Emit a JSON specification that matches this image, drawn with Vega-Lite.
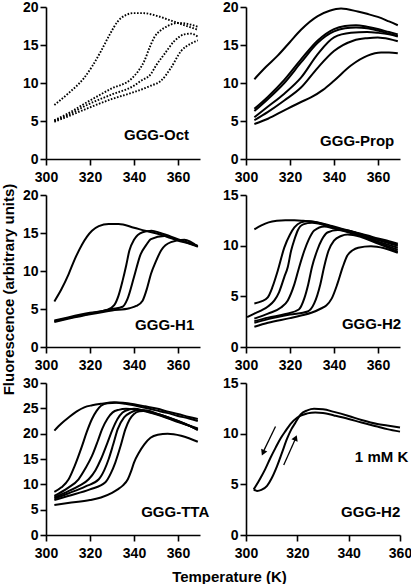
{
 "$schema": "https://vega.github.io/schema/vega-lite/v6.json",
 "background": "white",
 "padding": {"left": 0, "top": 0, "right": 0, "bottom": 0},
 "config": {
  "view": {"stroke": null},
  "font": "Liberation Sans",
  "axis": {"grid": false, "domainColor": "black", "domainWidth": 1.6, "tickColor": "black", "tickWidth": 1.6, "tickSize": 6,
   "labelFont": "Liberation Sans", "labelFontSize": 14, "labelFontWeight": "bold", "labelColor": "black", "labelFlush": false, "labelOverlap": false,
   "titleFont": "Liberation Sans", "titleFontSize": 15, "titleFontWeight": "bold", "titleColor": "black"},
  "axisX": {"labelPadding": 5},
  "axisY": {"labelPadding": 2, "labelOverlap": false, "labelBound": false},
  "line": {"color": "black", "strokeWidth": 2, "interpolate": "monotone"},
  "text": {"font": "Liberation Sans", "fontSize": 15, "fontWeight": "bold", "color": "black", "align": "right", "baseline": "alphabetic"}
 },
 "datasets": {
  "curves": [
   {"p":"Oct","s":1,"T":303.8,"F":7.1},{"p":"Oct","s":1,"T":310,"F":8.6},{"p":"Oct","s":1,"T":317.4,"F":10.7},{"p":"Oct","s":1,"T":321,"F":12.2},{"p":"Oct","s":1,"T":325,"F":14.2},{"p":"Oct","s":1,"T":329,"F":16.4},{"p":"Oct","s":1,"T":332.6,"F":18.1},{"p":"Oct","s":1,"T":336,"F":18.9},{"p":"Oct","s":1,"T":340,"F":19.2},{"p":"Oct","s":1,"T":344,"F":19.2},{"p":"Oct","s":1,"T":350.8,"F":18.8},{"p":"Oct","s":1,"T":355,"F":18.4},{"p":"Oct","s":1,"T":359.9,"F":17.9},{"p":"Oct","s":1,"T":365,"F":17.4},{"p":"Oct","s":1,"T":369,"F":17.0},
   {"p":"Oct","s":2,"T":303.8,"F":5.1},{"p":"Oct","s":2,"T":310,"F":6.0},{"p":"Oct","s":2,"T":320,"F":7.7},{"p":"Oct","s":2,"T":330,"F":9.3},{"p":"Oct","s":2,"T":338.6,"F":10.5},{"p":"Oct","s":2,"T":342,"F":11.6},{"p":"Oct","s":2,"T":344.7,"F":12.9},{"p":"Oct","s":2,"T":347,"F":14.6},{"p":"Oct","s":2,"T":349.2,"F":16.0},{"p":"Oct","s":2,"T":352,"F":16.9},{"p":"Oct","s":2,"T":355.3,"F":17.5},{"p":"Oct","s":2,"T":359.9,"F":17.9},{"p":"Oct","s":2,"T":364,"F":17.8},{"p":"Oct","s":2,"T":369,"F":17.4},
   {"p":"Oct","s":3,"T":303.8,"F":5.0},{"p":"Oct","s":3,"T":310,"F":5.8},{"p":"Oct","s":3,"T":320,"F":7.3},{"p":"Oct","s":3,"T":330,"F":8.5},{"p":"Oct","s":3,"T":340,"F":9.65},{"p":"Oct","s":3,"T":343.2,"F":10.3},{"p":"Oct","s":3,"T":347.7,"F":11.2},{"p":"Oct","s":3,"T":350,"F":12.3},{"p":"Oct","s":3,"T":353.8,"F":13.8},{"p":"Oct","s":3,"T":358.3,"F":15.5},{"p":"Oct","s":3,"T":362.9,"F":16.4},{"p":"Oct","s":3,"T":366,"F":16.5},{"p":"Oct","s":3,"T":369,"F":16.1},
   {"p":"Oct","s":4,"T":303.8,"F":4.9},{"p":"Oct","s":4,"T":310,"F":5.6},{"p":"Oct","s":4,"T":320,"F":6.8},{"p":"Oct","s":4,"T":330,"F":7.9},{"p":"Oct","s":4,"T":340,"F":8.8},{"p":"Oct","s":4,"T":347.7,"F":9.65},{"p":"Oct","s":4,"T":352.3,"F":10.3},{"p":"Oct","s":4,"T":356.8,"F":12.0},{"p":"Oct","s":4,"T":361.4,"F":14.2},{"p":"Oct","s":4,"T":365.9,"F":15.2},{"p":"Oct","s":4,"T":369,"F":15.6},

   {"p":"Prop","s":1,"T":303.8,"F":10.5},{"p":"Prop","s":1,"T":309,"F":12.1},{"p":"Prop","s":1,"T":314.4,"F":13.6},{"p":"Prop","s":1,"T":320,"F":15.4},{"p":"Prop","s":1,"T":325,"F":17.0},{"p":"Prop","s":1,"T":332.6,"F":18.8},{"p":"Prop","s":1,"T":338,"F":19.5},{"p":"Prop","s":1,"T":343.2,"F":19.8},{"p":"Prop","s":1,"T":350.8,"F":19.4},{"p":"Prop","s":1,"T":355,"F":19.1},{"p":"Prop","s":1,"T":359.9,"F":18.7},{"p":"Prop","s":1,"T":365,"F":18.1},{"p":"Prop","s":1,"T":369,"F":17.6},
   {"p":"Prop","s":2,"T":303.8,"F":6.6},{"p":"Prop","s":2,"T":310,"F":8.2},{"p":"Prop","s":2,"T":317.4,"F":10.4},{"p":"Prop","s":2,"T":325,"F":13.1},{"p":"Prop","s":2,"T":332.6,"F":15.6},{"p":"Prop","s":2,"T":340,"F":17.1},{"p":"Prop","s":2,"T":345,"F":17.5},{"p":"Prop","s":2,"T":350,"F":17.6},{"p":"Prop","s":2,"T":355,"F":17.4},{"p":"Prop","s":2,"T":359.9,"F":17.1},{"p":"Prop","s":2,"T":365,"F":16.7},{"p":"Prop","s":2,"T":369,"F":16.4},
   {"p":"Prop","s":3,"T":303.8,"F":6.3},{"p":"Prop","s":3,"T":310,"F":7.9},{"p":"Prop","s":3,"T":317.4,"F":10.0},{"p":"Prop","s":3,"T":325,"F":12.7},{"p":"Prop","s":3,"T":332.6,"F":15.3},{"p":"Prop","s":3,"T":340,"F":16.8},{"p":"Prop","s":3,"T":345,"F":17.2},{"p":"Prop","s":3,"T":350,"F":17.3},{"p":"Prop","s":3,"T":355,"F":17.2},{"p":"Prop","s":3,"T":359.9,"F":16.9},{"p":"Prop","s":3,"T":365,"F":16.5},{"p":"Prop","s":3,"T":369,"F":16.2},
   {"p":"Prop","s":4,"T":303.8,"F":5.5},{"p":"Prop","s":4,"T":310,"F":6.9},{"p":"Prop","s":4,"T":317.4,"F":8.6},{"p":"Prop","s":4,"T":325,"F":10.7},{"p":"Prop","s":4,"T":332.6,"F":13.8},{"p":"Prop","s":4,"T":340,"F":16.0},{"p":"Prop","s":4,"T":347.7,"F":16.6},{"p":"Prop","s":4,"T":355,"F":16.7},{"p":"Prop","s":4,"T":359.9,"F":16.6},{"p":"Prop","s":4,"T":365,"F":16.4},{"p":"Prop","s":4,"T":369,"F":16.1},
   {"p":"Prop","s":5,"T":303.8,"F":5.1},{"p":"Prop","s":5,"T":310,"F":6.2},{"p":"Prop","s":5,"T":317.4,"F":7.7},{"p":"Prop","s":5,"T":325,"F":9.4},{"p":"Prop","s":5,"T":332.6,"F":12.0},{"p":"Prop","s":5,"T":340,"F":14.2},{"p":"Prop","s":5,"T":349,"F":15.6},{"p":"Prop","s":5,"T":355,"F":15.9},{"p":"Prop","s":5,"T":359.9,"F":16.0},{"p":"Prop","s":5,"T":365,"F":15.8},{"p":"Prop","s":5,"T":369,"F":15.5},
   {"p":"Prop","s":6,"T":303.8,"F":4.6},{"p":"Prop","s":6,"T":310,"F":5.3},{"p":"Prop","s":6,"T":317.4,"F":6.4},{"p":"Prop","s":6,"T":325,"F":7.5},{"p":"Prop","s":6,"T":329.5,"F":8.1},{"p":"Prop","s":6,"T":335,"F":9.1},{"p":"Prop","s":6,"T":340,"F":10.3},{"p":"Prop","s":6,"T":347.7,"F":12.3},{"p":"Prop","s":6,"T":355.3,"F":13.6},{"p":"Prop","s":6,"T":361.4,"F":14.0},{"p":"Prop","s":6,"T":365,"F":14.0},{"p":"Prop","s":6,"T":369,"F":13.9},

   {"p":"H1","s":1,"T":303.8,"F":6.0},{"p":"H1","s":1,"T":307,"F":7.6},{"p":"H1","s":1,"T":310.3,"F":9.6},{"p":"H1","s":1,"T":313,"F":11.5},{"p":"H1","s":1,"T":316.4,"F":13.5},{"p":"H1","s":1,"T":320.9,"F":15.3},{"p":"H1","s":1,"T":324,"F":15.9},{"p":"H1","s":1,"T":328.5,"F":16.2},{"p":"H1","s":1,"T":333,"F":16.2},{"p":"H1","s":1,"T":340,"F":15.7},{"p":"H1","s":1,"T":345,"F":15.3},{"p":"H1","s":1,"T":350.8,"F":14.9},{"p":"H1","s":1,"T":355,"F":14.5},{"p":"H1","s":1,"T":359.9,"F":14.0},{"p":"H1","s":1,"T":365,"F":13.6},{"p":"H1","s":1,"T":369,"F":13.2},
   {"p":"H1","s":2,"T":303.8,"F":3.5},{"p":"H1","s":2,"T":310,"F":3.9},{"p":"H1","s":2,"T":320,"F":4.5},{"p":"H1","s":2,"T":328,"F":4.9},{"p":"H1","s":2,"T":331,"F":5.5},{"p":"H1","s":2,"T":333,"F":6.8},{"p":"H1","s":2,"T":334.8,"F":8.7},{"p":"H1","s":2,"T":336.5,"F":10.8},{"p":"H1","s":2,"T":337.9,"F":12.7},{"p":"H1","s":2,"T":340,"F":14.1},{"p":"H1","s":2,"T":343.9,"F":15.1},{"p":"H1","s":2,"T":348,"F":15.3},{"p":"H1","s":2,"T":352,"F":15.0},{"p":"H1","s":2,"T":359.9,"F":14.2},{"p":"H1","s":2,"T":369,"F":13.3},
   {"p":"H1","s":3,"T":303.8,"F":3.4},{"p":"H1","s":3,"T":310,"F":3.8},{"p":"H1","s":3,"T":320,"F":4.4},{"p":"H1","s":3,"T":330,"F":5.0},{"p":"H1","s":3,"T":334.8,"F":5.3},{"p":"H1","s":3,"T":337,"F":6.3},{"p":"H1","s":3,"T":340,"F":9.2},{"p":"H1","s":3,"T":343,"F":12.2},{"p":"H1","s":3,"T":345.5,"F":13.4},{"p":"H1","s":3,"T":347.7,"F":14.2},{"p":"H1","s":3,"T":353.8,"F":14.6},{"p":"H1","s":3,"T":359.9,"F":14.1},{"p":"H1","s":3,"T":369,"F":13.3},
   {"p":"H1","s":4,"T":303.8,"F":3.3},{"p":"H1","s":4,"T":310,"F":3.7},{"p":"H1","s":4,"T":320,"F":4.3},{"p":"H1","s":4,"T":330,"F":4.8},{"p":"H1","s":4,"T":337.9,"F":5.1},{"p":"H1","s":4,"T":341,"F":5.4},{"p":"H1","s":4,"T":343.9,"F":6.1},{"p":"H1","s":4,"T":346,"F":7.8},{"p":"H1","s":4,"T":347.7,"F":9.6},{"p":"H1","s":4,"T":350,"F":11.3},{"p":"H1","s":4,"T":352.3,"F":12.7},{"p":"H1","s":4,"T":356.8,"F":13.8},{"p":"H1","s":4,"T":362.9,"F":14.1},{"p":"H1","s":4,"T":369,"F":13.2},

   {"p":"H2","s":1,"T":303.8,"F":11.6},{"p":"H2","s":1,"T":307,"F":12.0},{"p":"H2","s":1,"T":310.3,"F":12.3},{"p":"H2","s":1,"T":314,"F":12.45},{"p":"H2","s":1,"T":317.9,"F":12.5},{"p":"H2","s":1,"T":322,"F":12.5},{"p":"H2","s":1,"T":326,"F":12.45},{"p":"H2","s":1,"T":332.6,"F":12.3},{"p":"H2","s":1,"T":338,"F":12.0},{"p":"H2","s":1,"T":344.7,"F":11.6},{"p":"H2","s":1,"T":350,"F":11.3},{"p":"H2","s":1,"T":355.3,"F":11.0},{"p":"H2","s":1,"T":360,"F":10.7},{"p":"H2","s":1,"T":365,"F":10.45},{"p":"H2","s":1,"T":369,"F":10.2},
   {"p":"H2","s":2,"T":303.8,"F":4.3},{"p":"H2","s":2,"T":307,"F":4.5},{"p":"H2","s":2,"T":309.9,"F":4.9},{"p":"H2","s":2,"T":312,"F":5.9},{"p":"H2","s":2,"T":314.4,"F":7.5},{"p":"H2","s":2,"T":317.4,"F":9.8},{"p":"H2","s":2,"T":320,"F":11.1},{"p":"H2","s":2,"T":322,"F":11.8},{"p":"H2","s":2,"T":325,"F":12.3},{"p":"H2","s":2,"T":328,"F":12.4},{"p":"H2","s":2,"T":333,"F":12.25},{"p":"H2","s":2,"T":340,"F":11.8},{"p":"H2","s":2,"T":350,"F":11.25},{"p":"H2","s":2,"T":360,"F":10.6},{"p":"H2","s":2,"T":369,"F":10.1},
   {"p":"H2","s":3,"T":300.5,"F":2.95},{"p":"H2","s":3,"T":303.8,"F":3.3},{"p":"H2","s":3,"T":306.8,"F":3.6},{"p":"H2","s":3,"T":310,"F":4.0},{"p":"H2","s":3,"T":312.9,"F":4.6},{"p":"H2","s":3,"T":315,"F":5.4},{"p":"H2","s":3,"T":317.4,"F":6.9},{"p":"H2","s":3,"T":319,"F":7.9},{"p":"H2","s":3,"T":320.5,"F":9.5},{"p":"H2","s":3,"T":322,"F":10.6},{"p":"H2","s":3,"T":323.5,"F":11.5},{"p":"H2","s":3,"T":326,"F":12.1},{"p":"H2","s":3,"T":330,"F":12.25},{"p":"H2","s":3,"T":340,"F":11.75},{"p":"H2","s":3,"T":350,"F":11.2},{"p":"H2","s":3,"T":360,"F":10.55},{"p":"H2","s":3,"T":369,"F":10.0},
   {"p":"H2","s":4,"T":303.8,"F":2.8},{"p":"H2","s":4,"T":310,"F":3.3},{"p":"H2","s":4,"T":315.9,"F":3.9},{"p":"H2","s":4,"T":319,"F":4.6},{"p":"H2","s":4,"T":322,"F":6.2},{"p":"H2","s":4,"T":324.2,"F":7.9},{"p":"H2","s":4,"T":326.5,"F":9.5},{"p":"H2","s":4,"T":328.5,"F":10.6},{"p":"H2","s":4,"T":331,"F":11.5},{"p":"H2","s":4,"T":335.6,"F":11.9},{"p":"H2","s":4,"T":340,"F":11.7},{"p":"H2","s":4,"T":350,"F":11.1},{"p":"H2","s":4,"T":360,"F":10.4},{"p":"H2","s":4,"T":369,"F":9.8},
   {"p":"H2","s":5,"T":303.8,"F":2.55},{"p":"H2","s":5,"T":310,"F":2.9},{"p":"H2","s":5,"T":318,"F":3.25},{"p":"H2","s":5,"T":324,"F":3.7},{"p":"H2","s":5,"T":326.5,"F":4.8},{"p":"H2","s":5,"T":328.3,"F":6.2},{"p":"H2","s":5,"T":330,"F":7.9},{"p":"H2","s":5,"T":332.3,"F":9.5},{"p":"H2","s":5,"T":334.5,"F":10.6},{"p":"H2","s":5,"T":337,"F":11.3},{"p":"H2","s":5,"T":341.7,"F":11.55},{"p":"H2","s":5,"T":346,"F":11.5},{"p":"H2","s":5,"T":352,"F":11.1},{"p":"H2","s":5,"T":360,"F":10.3},{"p":"H2","s":5,"T":369,"F":9.6},
   {"p":"H2","s":6,"T":303.8,"F":2.4},{"p":"H2","s":6,"T":310,"F":2.75},{"p":"H2","s":6,"T":320,"F":3.2},{"p":"H2","s":6,"T":328,"F":3.5},{"p":"H2","s":6,"T":331,"F":4.3},{"p":"H2","s":6,"T":333.8,"F":6.2},{"p":"H2","s":6,"T":335.5,"F":7.9},{"p":"H2","s":6,"T":337.5,"F":9.5},{"p":"H2","s":6,"T":340,"F":10.5},{"p":"H2","s":6,"T":343.2,"F":10.95},{"p":"H2","s":6,"T":346.2,"F":11.1},{"p":"H2","s":6,"T":352.3,"F":10.85},{"p":"H2","s":6,"T":360,"F":10.2},{"p":"H2","s":6,"T":369,"F":9.4},
   {"p":"H2","s":7,"T":303.8,"F":2.0},{"p":"H2","s":7,"T":310,"F":2.4},{"p":"H2","s":7,"T":320,"F":2.85},{"p":"H2","s":7,"T":325,"F":3.1},{"p":"H2","s":7,"T":330,"F":3.4},{"p":"H2","s":7,"T":334.1,"F":3.8},{"p":"H2","s":7,"T":336.5,"F":4.1},{"p":"H2","s":7,"T":339,"F":4.8},{"p":"H2","s":7,"T":341.5,"F":6.2},{"p":"H2","s":7,"T":344,"F":7.9},{"p":"H2","s":7,"T":346,"F":9.0},{"p":"H2","s":7,"T":348.5,"F":9.55},{"p":"H2","s":7,"T":351,"F":9.8},{"p":"H2","s":7,"T":356.8,"F":9.95},{"p":"H2","s":7,"T":362.9,"F":9.75},{"p":"H2","s":7,"T":369,"F":9.3},

   {"p":"TTA","s":1,"T":303.8,"F":20.6},{"p":"TTA","s":1,"T":307,"F":22.0},{"p":"TTA","s":1,"T":310.3,"F":23.2},{"p":"TTA","s":1,"T":314,"F":24.4},{"p":"TTA","s":1,"T":317.4,"F":25.2},{"p":"TTA","s":1,"T":321,"F":25.6},{"p":"TTA","s":1,"T":325,"F":25.9},{"p":"TTA","s":1,"T":331,"F":26.2},{"p":"TTA","s":1,"T":335,"F":26.1},{"p":"TTA","s":1,"T":340,"F":25.8},{"p":"TTA","s":1,"T":345,"F":25.4},{"p":"TTA","s":1,"T":350.8,"F":24.9},{"p":"TTA","s":1,"T":355,"F":24.4},{"p":"TTA","s":1,"T":359.9,"F":23.9},{"p":"TTA","s":1,"T":365,"F":23.3},{"p":"TTA","s":1,"T":369,"F":22.9},
   {"p":"TTA","s":2,"T":303.8,"F":8.5},{"p":"TTA","s":2,"T":307,"F":9.4},{"p":"TTA","s":2,"T":310.3,"F":11.0},{"p":"TTA","s":2,"T":313,"F":13.6},{"p":"TTA","s":2,"T":316.4,"F":17.6},{"p":"TTA","s":2,"T":318.5,"F":20.3},{"p":"TTA","s":2,"T":320.9,"F":22.9},{"p":"TTA","s":2,"T":323,"F":24.5},{"p":"TTA","s":2,"T":325,"F":25.5},{"p":"TTA","s":2,"T":328,"F":26.0},{"p":"TTA","s":2,"T":332,"F":26.1},{"p":"TTA","s":2,"T":336,"F":25.9},{"p":"TTA","s":2,"T":340,"F":25.6},{"p":"TTA","s":2,"T":345,"F":25.1},{"p":"TTA","s":2,"T":350,"F":24.6},{"p":"TTA","s":2,"T":355,"F":24.1},{"p":"TTA","s":2,"T":360,"F":23.5},{"p":"TTA","s":2,"T":365,"F":23.0},{"p":"TTA","s":2,"T":369,"F":22.5},
   {"p":"TTA","s":3,"T":303.8,"F":7.7},{"p":"TTA","s":3,"T":310,"F":9.3},{"p":"TTA","s":3,"T":314.8,"F":11.0},{"p":"TTA","s":3,"T":318,"F":13.2},{"p":"TTA","s":3,"T":320.9,"F":15.6},{"p":"TTA","s":3,"T":323.5,"F":18.5},{"p":"TTA","s":3,"T":325.5,"F":20.9},{"p":"TTA","s":3,"T":328,"F":23.0},{"p":"TTA","s":3,"T":330.3,"F":24.2},{"p":"TTA","s":3,"T":333,"F":24.7},{"p":"TTA","s":3,"T":336.4,"F":24.9},{"p":"TTA","s":3,"T":340,"F":24.8},{"p":"TTA","s":3,"T":345,"F":24.4},{"p":"TTA","s":3,"T":350,"F":23.8},{"p":"TTA","s":3,"T":355,"F":23.1},{"p":"TTA","s":3,"T":360,"F":22.3},{"p":"TTA","s":3,"T":365,"F":21.6},{"p":"TTA","s":3,"T":369,"F":21.0},
   {"p":"TTA","s":4,"T":303.8,"F":7.4},{"p":"TTA","s":4,"T":310,"F":8.6},{"p":"TTA","s":4,"T":315,"F":9.7},{"p":"TTA","s":4,"T":319.4,"F":11.0},{"p":"TTA","s":4,"T":322.5,"F":12.8},{"p":"TTA","s":4,"T":325,"F":15.0},{"p":"TTA","s":4,"T":328,"F":18.3},{"p":"TTA","s":4,"T":330.3,"F":20.9},{"p":"TTA","s":4,"T":332.5,"F":22.9},{"p":"TTA","s":4,"T":334.8,"F":24.2},{"p":"TTA","s":4,"T":338,"F":24.8},{"p":"TTA","s":4,"T":340,"F":24.9},{"p":"TTA","s":4,"T":345,"F":24.5},{"p":"TTA","s":4,"T":350,"F":23.9},{"p":"TTA","s":4,"T":355,"F":23.2},{"p":"TTA","s":4,"T":360,"F":22.4},{"p":"TTA","s":4,"T":365,"F":21.6},{"p":"TTA","s":4,"T":369,"F":20.9},
   {"p":"TTA","s":5,"T":303.8,"F":7.2},{"p":"TTA","s":5,"T":310,"F":8.2},{"p":"TTA","s":5,"T":318,"F":9.6},{"p":"TTA","s":5,"T":324,"F":11.0},{"p":"TTA","s":5,"T":326.5,"F":12.8},{"p":"TTA","s":5,"T":328.5,"F":15.0},{"p":"TTA","s":5,"T":330.5,"F":17.8},{"p":"TTA","s":5,"T":332.6,"F":20.9},{"p":"TTA","s":5,"T":335.5,"F":23.2},{"p":"TTA","s":5,"T":338.6,"F":24.2},{"p":"TTA","s":5,"T":342,"F":24.6},{"p":"TTA","s":5,"T":344.7,"F":24.6},{"p":"TTA","s":5,"T":350,"F":24.0},{"p":"TTA","s":5,"T":355,"F":23.3},{"p":"TTA","s":5,"T":360,"F":22.5},{"p":"TTA","s":5,"T":365,"F":21.6},{"p":"TTA","s":5,"T":369,"F":20.8},
   {"p":"TTA","s":6,"T":303.8,"F":6.9},{"p":"TTA","s":6,"T":310,"F":7.7},{"p":"TTA","s":6,"T":320,"F":9.0},{"p":"TTA","s":6,"T":327,"F":10.4},{"p":"TTA","s":6,"T":329.5,"F":12.2},{"p":"TTA","s":6,"T":331.5,"F":14.3},{"p":"TTA","s":6,"T":334,"F":17.7},{"p":"TTA","s":6,"T":336.1,"F":20.9},{"p":"TTA","s":6,"T":338,"F":22.8},{"p":"TTA","s":6,"T":340,"F":23.9},{"p":"TTA","s":6,"T":342.5,"F":24.4},{"p":"TTA","s":6,"T":345.7,"F":24.5},{"p":"TTA","s":6,"T":350,"F":24.0},{"p":"TTA","s":6,"T":355,"F":23.3},{"p":"TTA","s":6,"T":360,"F":22.5},{"p":"TTA","s":6,"T":365,"F":21.6},{"p":"TTA","s":6,"T":369,"F":20.7},
   {"p":"TTA","s":7,"T":303.8,"F":5.9},{"p":"TTA","s":7,"T":310,"F":6.3},{"p":"TTA","s":7,"T":320,"F":6.9},{"p":"TTA","s":7,"T":325,"F":7.4},{"p":"TTA","s":7,"T":330,"F":8.3},{"p":"TTA","s":7,"T":332.6,"F":9.0},{"p":"TTA","s":7,"T":335,"F":9.8},{"p":"TTA","s":7,"T":337.2,"F":11.0},{"p":"TTA","s":7,"T":338.7,"F":12.6},{"p":"TTA","s":7,"T":340,"F":14.3},{"p":"TTA","s":7,"T":342.3,"F":16.3},{"p":"TTA","s":7,"T":344.7,"F":17.9},{"p":"TTA","s":7,"T":347.5,"F":19.2},{"p":"TTA","s":7,"T":350.8,"F":19.8},{"p":"TTA","s":7,"T":355.3,"F":20.0},{"p":"TTA","s":7,"T":358,"F":19.9},{"p":"TTA","s":7,"T":361.4,"F":19.6},{"p":"TTA","s":7,"T":365,"F":19.1},{"p":"TTA","s":7,"T":369,"F":18.4},

   {"p":"K","s":1,"T":303,"F":4.5},{"p":"K","s":1,"T":304.3,"F":4.35},{"p":"K","s":1,"T":306,"F":4.45},{"p":"K","s":1,"T":308.2,"F":4.85},{"p":"K","s":1,"T":310,"F":5.6},{"p":"K","s":1,"T":312.1,"F":6.8},{"p":"K","s":1,"T":314,"F":8.1},{"p":"K","s":1,"T":316,"F":9.5},{"p":"K","s":1,"T":317.6,"F":10.4},{"p":"K","s":1,"T":319.3,"F":11.1},{"p":"K","s":1,"T":321.3,"F":11.9},{"p":"K","s":1,"T":323.9,"F":12.3},{"p":"K","s":1,"T":326.5,"F":12.45},{"p":"K","s":1,"T":330,"F":12.4},{"p":"K","s":1,"T":334.3,"F":12.15},{"p":"K","s":1,"T":340,"F":11.75},{"p":"K","s":1,"T":345,"F":11.35},{"p":"K","s":1,"T":351.2,"F":10.95},{"p":"K","s":1,"T":355,"F":10.8},{"p":"K","s":1,"T":360,"F":10.6},
   {"p":"K","s":2,"T":303,"F":4.5},{"p":"K","s":2,"T":304,"F":4.9},{"p":"K","s":2,"T":305.6,"F":5.6},{"p":"K","s":2,"T":307.5,"F":6.5},{"p":"K","s":2,"T":309.5,"F":7.6},{"p":"K","s":2,"T":311.5,"F":8.6},{"p":"K","s":2,"T":313.4,"F":9.5},{"p":"K","s":2,"T":315.5,"F":10.3},{"p":"K","s":2,"T":317.3,"F":10.95},{"p":"K","s":2,"T":320,"F":11.6},{"p":"K","s":2,"T":323.9,"F":12.0},{"p":"K","s":2,"T":327,"F":12.1},{"p":"K","s":2,"T":330,"F":12.05},{"p":"K","s":2,"T":334.3,"F":11.8},{"p":"K","s":2,"T":340,"F":11.45},{"p":"K","s":2,"T":345,"F":11.1},{"p":"K","s":2,"T":351.2,"F":10.7},{"p":"K","s":2,"T":355,"F":10.45},{"p":"K","s":2,"T":360,"F":10.2}
  ],
  "arrows": [
   {"T":311.5,"F":10.7,"T2":306.9,"F2":8.3},
   {"T":314.7,"F":6.9,"T2":319.1,"F2":9.4}
  ]
 },
 "bounds": "flush",
 "columns": 2,
 "spacing": {"row": 36, "column": 46},
 "concat": [
  {
   "width": 154, "height": 152,
   "layer": [
    {"data": {"name": "curves"}, "transform": [{"filter": "datum.p == 'Oct'"}],
     "mark": {"type": "line", "strokeDash": [1.6, 1.6], "strokeWidth": 1.9},
     "encoding": {
      "x": {"field": "T", "type": "quantitative", "scale": {"domain": [300, 370], "nice": false, "zero": false},
            "axis": {"title": null, "values": [300,310,320,330,340,350,360,370], "labelExpr": "datum.value % 20 === 0 ? datum.label : ''", "tickSize": {"condition": {"test": "datum.value % 20 === 0", "value": 6}, "value": 4}}},
      "y": {"field": "F", "type": "quantitative", "scale": {"domain": [0, 20], "nice": false}, "axis": {"title": null, "values": [0,5,10,15,20], "labelOverlap": false, "tickCount": 5}},
      "detail": {"field": "s"}}},
    {"data": {"values": [{"label": "GGG-Oct"}]}, "mark": {"type": "text"},
     "encoding": {"x": {"datum": 365, "type": "quantitative"}, "y": {"datum": 2.5, "type": "quantitative"}, "text": {"field": "label"}}}
   ]
  },
  {
   "width": 154, "height": 152,
   "layer": [
    {"data": {"name": "curves"}, "transform": [{"filter": "datum.p == 'Prop'"}],
     "mark": {"type": "line"},
     "encoding": {
      "x": {"field": "T", "type": "quantitative", "scale": {"domain": [300, 370], "nice": false, "zero": false},
            "axis": {"title": null, "values": [300,310,320,330,340,350,360,370], "labelExpr": "datum.value % 20 === 0 ? datum.label : ''", "tickSize": {"condition": {"test": "datum.value % 20 === 0", "value": 6}, "value": 4}}},
      "y": {"field": "F", "type": "quantitative", "scale": {"domain": [0, 20], "nice": false}, "axis": {"title": null, "values": [0,5,10,15,20], "labelOverlap": false, "tickCount": 5}},
      "detail": {"field": "s"}}},
    {"data": {"values": [{"label": "GGG-Prop"}]}, "mark": {"type": "text"},
     "encoding": {"x": {"datum": 367.4, "type": "quantitative"}, "y": {"datum": 1.7, "type": "quantitative"}, "text": {"field": "label"}}}
   ]
  },
  {
   "width": 154, "height": 152,
   "layer": [
    {"data": {"name": "curves"}, "transform": [{"filter": "datum.p == 'H1'"}],
     "mark": {"type": "line"},
     "encoding": {
      "x": {"field": "T", "type": "quantitative", "scale": {"domain": [300, 370], "nice": false, "zero": false},
            "axis": {"title": null, "values": [300,310,320,330,340,350,360,370], "labelExpr": "datum.value % 20 === 0 ? datum.label : ''", "tickSize": {"condition": {"test": "datum.value % 20 === 0", "value": 6}, "value": 4}}},
      "y": {"field": "F", "type": "quantitative", "scale": {"domain": [0, 20], "nice": false},
            "axis": {"title": "Fluorescence (arbitrary units)", "values": [0,5,10,15,20], "labelOverlap": false, "tickCount": 5, "titleX": -38, "titleY": 94, "titleAngle": 270, "titleAlign": "center", "titleBaseline": "middle"}},
      "detail": {"field": "s"}}},
    {"data": {"values": [{"label": "GGG-H1"}]}, "mark": {"type": "text"},
     "encoding": {"x": {"datum": 367.4, "type": "quantitative"}, "y": {"datum": 2.2, "type": "quantitative"}, "text": {"field": "label"}}}
   ]
  },
  {
   "width": 154, "height": 152,
   "layer": [
    {"data": {"name": "curves"}, "transform": [{"filter": "datum.p == 'H2'"}],
     "mark": {"type": "line"},
     "encoding": {
      "x": {"field": "T", "type": "quantitative", "scale": {"domain": [300, 370], "nice": false, "zero": false},
            "axis": {"title": null, "values": [300,310,320,330,340,350,360,370], "labelExpr": "datum.value % 20 === 0 ? datum.label : ''", "tickSize": {"condition": {"test": "datum.value % 20 === 0", "value": 6}, "value": 4}}},
      "y": {"field": "F", "type": "quantitative", "scale": {"domain": [0, 15], "nice": false}, "axis": {"title": null, "values": [0,5,10,15], "labelOverlap": false}},
      "detail": {"field": "s"}}},
    {"data": {"values": [{"label": "GGG-H2"}]}, "mark": {"type": "text"},
     "encoding": {"x": {"datum": 370.5, "type": "quantitative"}, "y": {"datum": 1.8, "type": "quantitative"}, "text": {"field": "label"}}}
   ]
  },
  {
   "width": 154, "height": 152,
   "layer": [
    {"data": {"name": "curves"}, "transform": [{"filter": "datum.p == 'TTA'"}],
     "mark": {"type": "line"},
     "encoding": {
      "x": {"field": "T", "type": "quantitative", "scale": {"domain": [300, 370], "nice": false, "zero": false},
            "axis": {"title": "Temperature (K)", "values": [300,310,320,330,340,350,360,370], "labelExpr": "datum.value % 20 === 0 ? datum.label : ''", "tickSize": {"condition": {"test": "datum.value % 20 === 0", "value": 6}, "value": 4},
                     "titleX": 183, "titleY": 46, "titleAlign": "center", "titleBaseline": "alphabetic"}},
      "y": {"field": "F", "type": "quantitative", "scale": {"domain": [0, 30], "nice": false}, "axis": {"title": null, "values": [0,5,10,15,20,25,30], "labelOverlap": false, "tickCount": 7}},
      "detail": {"field": "s"}}},
    {"data": {"values": [{"label": "GGG-TTA"}]}, "mark": {"type": "text"},
     "encoding": {"x": {"datum": 374.2, "type": "quantitative"}, "y": {"datum": 3.6, "type": "quantitative"}, "text": {"field": "label"}}}
   ]
  },
  {
   "width": 154, "height": 152,
   "layer": [
    {"data": {"name": "curves"}, "transform": [{"filter": "datum.p == 'K'"}],
     "mark": {"type": "line"},
     "encoding": {
      "x": {"field": "T", "type": "quantitative", "scale": {"domain": [300, 360], "nice": false, "zero": false},
            "axis": {"title": null, "values": [300,310,320,330,340,350,360], "labelExpr": "datum.value % 20 === 0 ? datum.label : ''", "tickSize": {"condition": {"test": "datum.value % 20 === 0", "value": 6}, "value": 4}}},
      "y": {"field": "F", "type": "quantitative", "scale": {"domain": [0, 15], "nice": false}, "axis": {"title": null, "values": [0,5,10,15], "labelOverlap": false}},
      "detail": {"field": "s"}}},
    {"data": {"name": "arrows"}, "mark": {"type": "rule", "color": "black", "strokeWidth": 1.3},
     "encoding": {"x": {"field": "T", "type": "quantitative"}, "y": {"field": "F", "type": "quantitative"}, "x2": {"field": "T2"}, "y2": {"field": "F2"}}},
    {"data": {"values": [{"a": 1}]}, "mark": {"type": "point", "shape": "triangle", "filled": true, "color": "black", "opacity": 1, "size": 45, "angle": 204},
     "encoding": {"x": {"datum": 306.8, "type": "quantitative"}, "y": {"datum": 8.2, "type": "quantitative"}}},
    {"data": {"values": [{"a": 1}]}, "mark": {"type": "point", "shape": "triangle", "filled": true, "color": "black", "opacity": 1, "size": 45, "angle": 22},
     "encoding": {"x": {"datum": 319.2, "type": "quantitative"}, "y": {"datum": 9.5, "type": "quantitative"}}},
    {"data": {"values": [{"label": "1 mM K"}]}, "mark": {"type": "text"},
     "encoding": {"x": {"datum": 363.2, "type": "quantitative"}, "y": {"datum": 7.2, "type": "quantitative"}, "text": {"field": "label"}}},
    {"data": {"values": [{"label": "GGG-H2"}]}, "mark": {"type": "text"},
     "encoding": {"x": {"datum": 360.1, "type": "quantitative"}, "y": {"datum": 1.8, "type": "quantitative"}, "text": {"field": "label"}}}
   ]
  }
 ]
}
